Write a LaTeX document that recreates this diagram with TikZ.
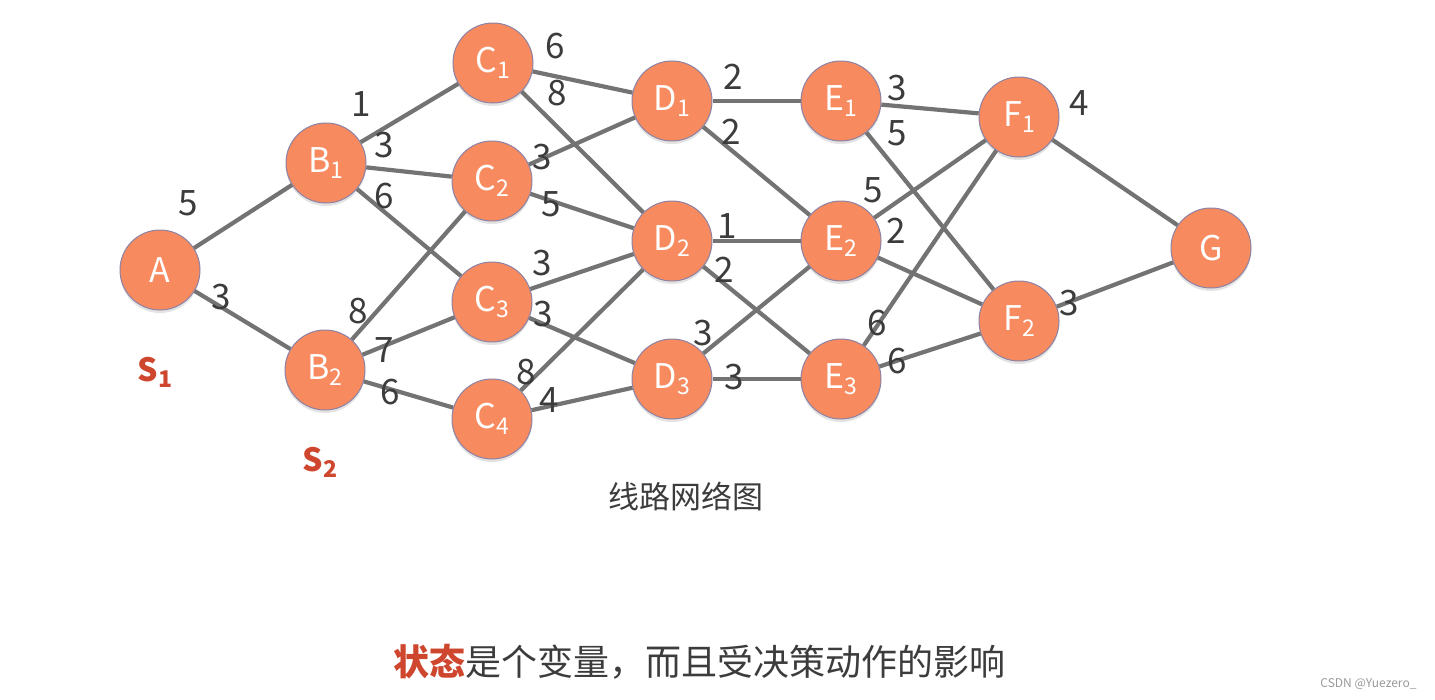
\documentclass[tikz,border=0pt]{standalone}
\usepackage{fontspec}
\setmainfont{Noto Sans CJK SC}
\usetikzlibrary{shadows}

\definecolor{stateorange}{RGB}{247,138,94}
\definecolor{staterim}{RGB}{140,130,165}
\definecolor{roadgray}{RGB}{115,115,115}
\definecolor{weightgray}{RGB}{60,60,60}
\definecolor{stagered}{RGB}{206,70,45}

% subscript inside the circles
\newcommand{\ix}[1]{\raisebox{-0.35ex}{\fontsize{23}{23}\selectfont #1}}

\tikzset{
  state/.style={circle, fill=stateorange, draw=staterim, line width=1pt,
    minimum size=80pt, inner sep=0pt, text=white,
    font=\fontsize{34}{34}\selectfont,
    drop shadow={opacity=0.22, shadow xshift=0pt, shadow yshift=-3pt}},
  road/.style={draw=roadgray, line width=4.2pt},
  wt/.style={text=weightgray, font=\fontsize{35}{35}\selectfont, inner sep=0pt},
  stage/.style={text=stagered, font=\bfseries\fontsize{32}{32}\selectfont, inner sep=0pt}
}

\begin{document}
\begin{tikzpicture}[x=1pt,y=-1pt]
\useasboundingbox (0,0) rectangle (1435,699);

%=====Csomópontok=======
\node[state] (A)  at (160,270) {A};
\node[state] (B1) at (326,163) {B\ix{1}};
\node[state] (B2) at (325,370) {B\ix{2}};
\node[state] (C1) at (493,63)  {C\ix{1}};
\node[state] (C2) at (492,181) {C\ix{2}};
\node[state] (C3) at (492,302) {C\ix{3}};
\node[state] (C4) at (492,419) {C\ix{4}};
\node[state] (D1) at (672,101) {D\ix{1}};
\node[state] (D2) at (672,241) {D\ix{2}};
\node[state] (D3) at (672,379) {D\ix{3}};
\node[state] (E1) at (841,101) {E\ix{1}};
\node[state] (E2) at (841,241) {E\ix{2}};
\node[state] (E3) at (841,379) {E\ix{3}};
\node[state] (F1) at (1019,117) {F\ix{1}};
\node[state] (F2) at (1019,321) {F\ix{2}};
\node[state] (G)  at (1211,248) {G};

%=====Utak=======
\foreach \u/\v in {A/B1, A/B2, B1/C1, B1/C2, B1/C3, B2/C2, B2/C3, B2/C4,
                   C1/D1, C1/D2, C2/D1, C2/D2, C3/D2, C3/D3, C4/D2, C4/D3,
                   D1/E1, D1/E2, D2/E2, D2/E3, D3/E2, D3/E3,
                   E1/F1, E1/F2, E2/F1, E2/F2, E3/F1, E3/F2, F1/G, F2/G}
  \draw[road] (\u) -- (\v);

%======Súlyok=========
\node[wt] (wab1) at (188,203) {5};
\node[wt] (wab2) at (221,297) {3};
\node[wt] (wb1c1) at (361,104) {1};
\node[wt] (wb1c2) at (384,145) {3};
\node[wt] (wb1c3) at (384,196) {6};
\node[wt] (wb2c2) at (358,311) {8};
\node[wt] (wb2c3) at (384,350) {7};
\node[wt] (wb2c4) at (390,392) {6};
\node[wt] (wc1d1) at (555,46)  {6};
\node[wt] (wc1d2) at (557,93)  {8};
\node[wt] (wc2d1) at (542,157) {3};
\node[wt] (wc2d2) at (551,204) {5};
\node[wt] (wc3d2) at (542,263) {3};
\node[wt] (wc3d3) at (543,314) {3};
\node[wt] (wc4d2) at (526,372) {8};
\node[wt] (wc4d3) at (549,400) {4};
\node[wt] (wd1e1) at (733,77)  {2};
\node[wt] (wd1e2) at (731,132) {2};
\node[wt] (wd2e2) at (727,226) {1};
\node[wt] (wd2e3) at (724,270) {2};
\node[wt] (wd3e2) at (703,333) {3};
\node[wt] (wd3e3) at (734,377) {3};
\node[wt] (we1f1) at (897,88)  {3};
\node[wt] (we1f2) at (897,133) {5};
\node[wt] (we2f1) at (873,190) {5};
\node[wt] (we2f2) at (896,231) {2};
\node[wt] (we3f1) at (877,323) {6};
\node[wt] (we3f2) at (897,361) {6};
\node[wt] (wf1g) at (1079,103) {4};
\node[wt] (wf2g) at (1069,303) {3};

%======Feliratok=========
\node[stage] (s1) at (155,372) {S\ix{1}};
\node[stage] (s2) at (320,462) {S\ix{2}};

\node[text=weightgray, font=\fontsize{31}{31}\selectfont] (title) at (686,497) {线路网络图};
\node[text=weightgray, font=\fontsize{36}{36}\selectfont] (note) at (699,662)
  {{\color{stagered}\bfseries 状态}是个变量，而且受决策动作的影响};
\node[text=gray!80, font=\fontsize{12}{12}\selectfont, anchor=east] (mark) at (1420,684) {CSDN @Yuezero\_};
\end{tikzpicture}
\end{document}
